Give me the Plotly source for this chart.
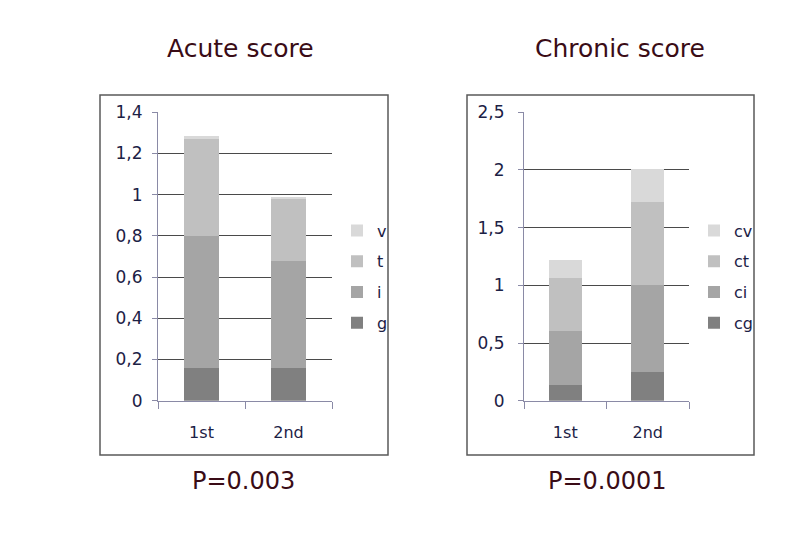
import plotly.graph_objects as go

# --- data ---
visits = ["1st", "2nd"]

acute_names = ["g", "i", "t", "v"]
acute_g = [0.16, 0.16]
acute_i = [0.64, 0.52]
acute_t = [0.47, 0.30]
acute_v = [0.015, 0.005]

chronic_names = ["cg", "ci", "ct", "cv"]
chronic_cg = [0.14, 0.25]
chronic_ci = [0.46, 0.75]
chronic_ct = [0.46, 0.72]
chronic_cv = [0.16, 0.29]

titles = ["Acute score", "Chronic score"]
p_values = ["P=0.003", "P=0.0001"]

greys = ["#808080", "#a5a5a5", "#c0c0c0", "#d9d9d9"]
txt = "#1c2145"
maroon = "#3a0c16"
font_fam = "Comic Sans MS, DejaVu Sans, sans-serif"

W, H = 810, 540
OFF = 8  # page body margin


def px(x):
    return (x - OFF) / W


def py(y):
    return 1 - (y - OFF) / H


fig = go.Figure()

acute = [acute_g, acute_i, acute_t, acute_v]
chronic = [chronic_cg, chronic_ci, chronic_ct, chronic_cv]

# top segment listed first in the legend, like the stacking
for k, (name, vals, col) in enumerate(zip(acute_names, acute, greys)):
    fig.add_trace(go.Bar(
        x=visits, y=vals, name=name, marker=dict(color=col, line=dict(width=0)),
        xaxis="x", yaxis="y", legend="legend", legendgroup="a" + name,
        legendrank=1000 - k,
    ))

for k, (name, vals, col) in enumerate(zip(chronic_names, chronic, greys)):
    fig.add_trace(go.Bar(
        x=visits, y=vals, name=name, marker=dict(color=col, line=dict(width=0)),
        xaxis="x2", yaxis="y2", legend="legend2", legendgroup="c" + name,
        legendrank=1000 - k,
    ))

ydom = [py(400.7), py(112.3)]
axis_col = "#8a8aa6"
xcommon = dict(
    showline=True, linecolor=axis_col, linewidth=1, automargin=False,
    ticks="outside", tickson="boundaries", ticklen=7, tickcolor=axis_col,
    tickfont=dict(family=font_fam, size=16, color=txt), showgrid=False,
    ticklabelstandoff=17,
)
ycommon = dict(
    showline=True, linecolor=axis_col, linewidth=1, automargin=False,
    ticks="outside", ticklen=5, tickcolor=axis_col,
    tickfont=dict(family=font_fam, size=17, color=txt),
    showgrid=True, gridcolor="#4a4a4a", gridwidth=1, zeroline=False,
)

legcommon = dict(
    font=dict(family=font_fam, size=16, color=txt),
    traceorder="grouped", tracegroupgap=7, bgcolor="rgba(0,0,0,0)",
    xanchor="left", yanchor="middle", itemclick=False,
)

fig.update_layout(
    width=W, height=H,
    margin=dict(l=0, r=0, t=0, b=0),
    paper_bgcolor="white", plot_bgcolor="white",
    barmode="stack", bargap=0.6,
    separators=",.",
    xaxis=dict(domain=[px(158), px(332)], anchor="y", **xcommon),
    yaxis=dict(domain=ydom, anchor="x", range=[0, 1.4], dtick=0.2,
               ticklabelstandoff=6, **ycommon),
    xaxis2=dict(domain=[px(524), px(689)], anchor="y2", **xcommon),
    yaxis2=dict(domain=ydom, anchor="x2", range=[0, 2.5], dtick=0.5,
                ticklabelstandoff=10, **ycommon),
    legend=dict(x=px(337), y=py(277), **legcommon),
    legend2=dict(x=px(694), y=py(277), **legcommon),
    showlegend=True,
)

# frames around the two charts
for x0, x1 in [(100, 388), (467, 754)]:
    fig.add_shape(type="rect", xref="paper", yref="paper",
                  x0=px(x0), x1=px(x1), y0=py(455), y1=py(95),
                  line=dict(color="#5a5a5a", width=1.5), layer="below")

for cx, t in zip([240, 620], titles):
    fig.add_annotation(text=t, x=px(cx), y=py(48), xref="paper", yref="paper",
                       xanchor="center", yanchor="middle", showarrow=False,
                       font=dict(family=font_fam, size=25, color=maroon))
for cx, p in zip([243, 607], p_values):
    fig.add_annotation(text=p, x=px(cx), y=py(481), xref="paper", yref="paper",
                       xanchor="center", yanchor="middle", showarrow=False,
                       font=dict(family="DejaVu Sans, Verdana, sans-serif", size=24, color=maroon))

fig.write_html("out.html")
